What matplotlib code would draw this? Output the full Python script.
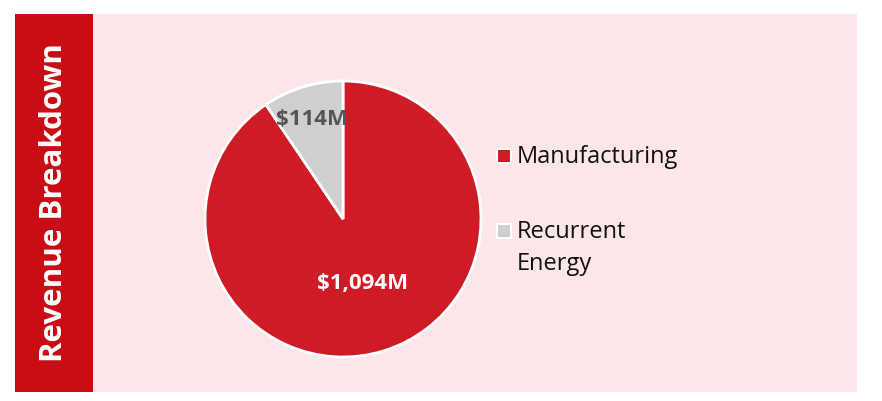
import matplotlib
matplotlib.use("Agg")
import matplotlib.pyplot as plt
from matplotlib.patches import Rectangle
import numpy as np

# data
segments = ["Manufacturing", "Recurrent Energy"]
legend_labels = ["Manufacturing", "Recurrent\nEnergy"]
revenue = [1094, 114]  # $M
value_labels = ["$1,094M", "$114M"]

slice_colors = ["#CF1B25", "#CFCFCF"]
text_colors = ["white", "#555555"]
label_dist = [0.48, 0.76]

W, H = 882, 402
plt.rcParams["font.family"] = ["Open Sans", "DejaVu Sans"]

fig = plt.figure(figsize=(W / 100, H / 100), dpi=100)
fig.patch.set_facecolor("white")


def px(x, y, w, h):
    # pixel box (top-left origin) -> figure fraction
    return [x / W, 1 - (y + h) / H, w / W, h / H]


# panels
fig.patches.append(Rectangle(px(93, 15, 764, 378)[:2], 764 / W, 378 / H,
                             transform=fig.transFigure, facecolor="#FCE6E7",
                             edgecolor="none", zorder=-5))
fig.patches.append(Rectangle(px(15, 15, 78, 378)[:2], 78 / W, 378 / H,
                             transform=fig.transFigure, facecolor="#C90D14",
                             edgecolor="none", zorder=-5))
fig.text(54 / W, 1 - 203 / H, "Revenue Breakdown", rotation=90, color="white",
         fontsize=22.5, fontweight="bold", ha="center", va="center")

# pie: centre (343,220), radius 138 px; pie limits are +-1.25
r = 138
side = 2 * r * 1.25
ax = fig.add_axes(px(343 - side / 2, 220 - side / 2, side, side))
ax.set_zorder(1)
ax.patch.set_alpha(0)
wedges, _ = ax.pie(revenue, colors=slice_colors, startangle=90, counterclock=False,
                   wedgeprops=dict(edgecolor="white", linewidth=2))
ax.set_aspect("equal")

for w, lab, tc, d in zip(wedges, value_labels, text_colors, label_dist):
    mid = np.deg2rad((w.theta1 + w.theta2) / 2)
    ax.text(d * np.cos(mid), d * np.sin(mid), lab, color=tc, fontsize=16,
            fontweight="bold", ha="center", va="center")

# legend
leg_y = [157, 248]
for lab, col, y in zip(legend_labels, slice_colors, leg_y):
    sq_y = y if "\n" not in lab else y - 16
    fig.patches.append(Rectangle(((497) / W, 1 - (sq_y + 7) / H), 14 / W, 14 / H,
                                 transform=fig.transFigure, facecolor=col,
                                 edgecolor="white", linewidth=1.5, zorder=2))
    fig.text(517 / W, 1 - y / H, lab, fontsize=17, color="#111111",
             ha="left", va="center", linespacing=1.4)

fig.savefig("out.png", dpi=100)
